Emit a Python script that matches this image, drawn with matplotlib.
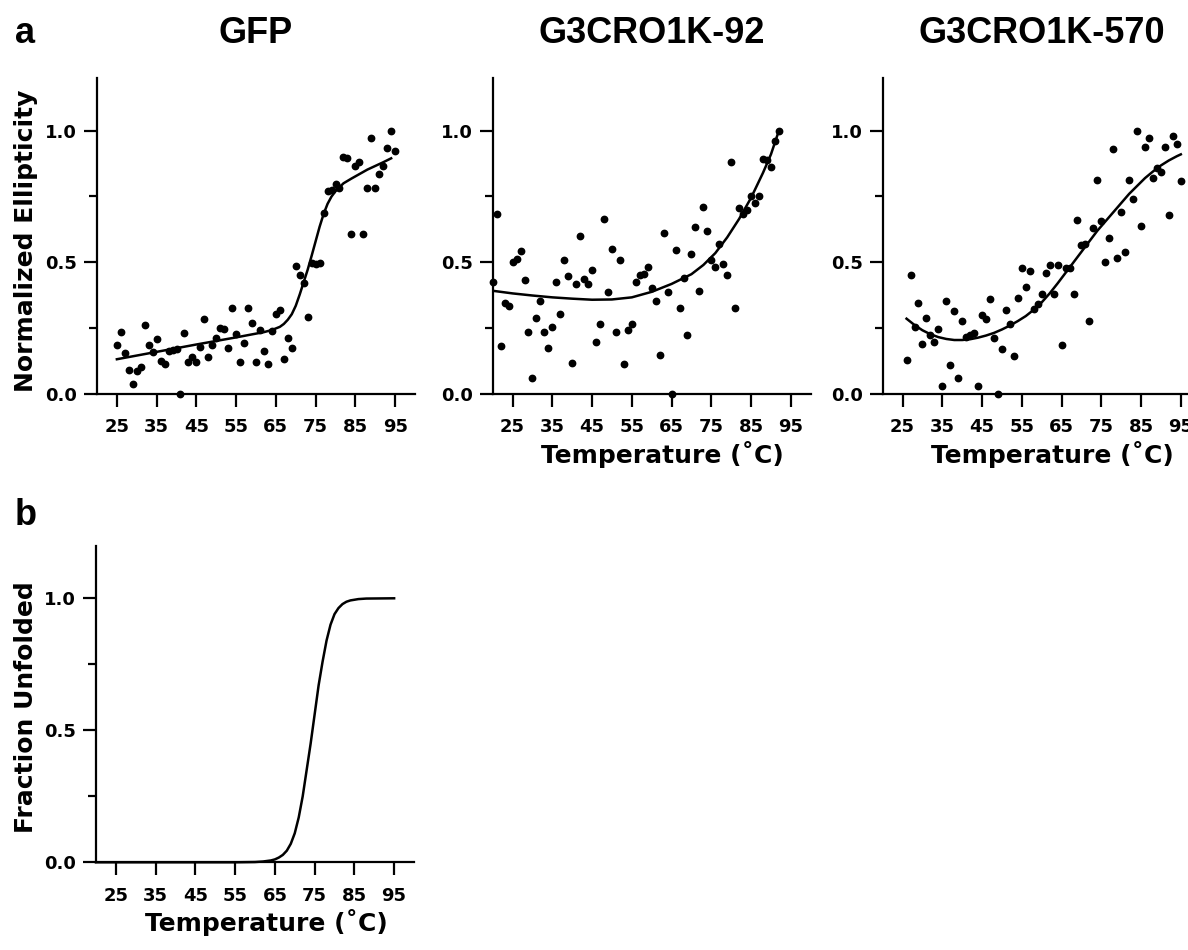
import matplotlib.pyplot as plt
import numpy as np

# --- panel a: measured CD ellipticity, one reading per degree ---
gfp_start = 25
gfp_ellip = [0.186, 0.235, 0.157, 0.090, 0.039, 0.086, 0.104, 0.263, 0.185, 0.161,
             0.209, 0.125, 0.115, 0.165, 0.167, 0.172, 0.0, 0.232, 0.122, 0.142,
             0.120, 0.177, 0.286, 0.141, 0.186, 0.214, 0.249, 0.246, 0.173, 0.327,
             0.229, 0.123, 0.195, 0.327, 0.271, 0.120, 0.243, 0.162, 0.114, 0.238,
             0.304, 0.319, 0.134, 0.214, 0.173, 0.487, 0.453, 0.420, 0.294, 0.496,
             0.495, 0.499, 0.689, 0.772, 0.775, 0.796, 0.784, 0.899, 0.897, 0.609,
             0.866, 0.881, 0.609, 0.782, 0.971, 0.782, 0.834, 0.866, 0.933, 1.0, 0.922]

k92_start = 20
k92_ellip = [0.424, 0.685, 0.182, 0.347, 0.335, 0.503, 0.514, 0.542, 0.433, 0.237,
             0.059, 0.290, 0.353, 0.235, 0.176, 0.256, 0.427, 0.303, 0.510, 0.447,
             0.119, 0.419, 0.599, 0.435, 0.416, 0.471, 0.197, 0.265, 0.666, 0.386,
             0.551, 0.237, 0.508, 0.115, 0.243, 0.266, 0.425, 0.452, 0.456, 0.482,
             0.401, 0.354, 0.147, 0.611, 0.386, 0.0, 0.546, 0.328, 0.439, 0.224,
             0.530, 0.635, 0.392, 0.711, 0.618, 0.508, 0.481, 0.568, 0.495, 0.451,
             0.880, 0.328, 0.708, 0.685, 0.700, 0.753, 0.724, 0.751, 0.891, 0.889,
             0.861, 0.961, 1.0]

k570_start = 26
k570_ellip = [0.129, 0.452, 0.256, 0.346, 0.189, 0.289, 0.224, 0.196, 0.246, 0.032,
              0.352, 0.109, 0.316, 0.062, 0.278, 0.215, 0.224, 0.230, 0.029, 0.299,
              0.284, 0.361, 0.211, 0.0, 0.170, 0.318, 0.265, 0.146, 0.366, 0.480,
              0.405, 0.466, 0.322, 0.342, 0.380, 0.458, 0.489, 0.381, 0.490, 0.185,
              0.477, 0.477, 0.378, 0.662, 0.566, 0.570, 0.278, 0.629, 0.814, 0.656,
              0.501, 0.594, 0.929, 0.518, 0.690, 0.541, 0.814, 0.741, 1.0, 0.638,
              0.938, 0.973, 0.820, 0.859, 0.842, 0.938, 0.678, 0.981, 0.948, 0.81]

# fitted curves
gfp_fit_t = [25, 35, 45, 55, 62, 64, 66, 67, 68, 69, 70, 71, 72, 73, 74, 75, 76,
             77, 78, 79, 80, 82, 84, 86, 88, 90, 92, 94]
gfp_fit_y = [0.132, 0.160, 0.188, 0.215, 0.235, 0.243, 0.255, 0.266, 0.282, 0.303,
             0.335, 0.378, 0.425, 0.472, 0.525, 0.580, 0.635, 0.683, 0.722, 0.750,
             0.770, 0.800, 0.818, 0.835, 0.852, 0.866, 0.880, 0.895]

k92_fit_t = [20, 25, 30, 35, 40, 45, 50, 55, 60, 65, 70, 73, 76, 79, 82, 85, 88, 90, 92]
k92_fit_y = [0.392, 0.382, 0.374, 0.367, 0.362, 0.358, 0.359, 0.367, 0.388, 0.418,
             0.455, 0.490, 0.535, 0.595, 0.665, 0.745, 0.840, 0.910, 1.0]

k570_fit_t = [26, 28, 30, 32, 34, 36, 38, 40, 42, 44, 46, 48, 50, 52, 54, 56, 58, 60,
              62, 64, 66, 68, 70, 72, 74, 76, 78, 80, 82, 84, 86, 88, 90, 92, 94, 95]
k570_fit_y = [0.286, 0.262, 0.242, 0.227, 0.216, 0.209, 0.205, 0.205, 0.208, 0.214,
              0.222, 0.232, 0.245, 0.260, 0.277, 0.296, 0.320, 0.348, 0.382, 0.420,
              0.460, 0.500, 0.540, 0.580, 0.620, 0.655, 0.690, 0.725, 0.760, 0.790,
              0.820, 0.845, 0.868, 0.887, 0.903, 0.910]

# --- panel b: fraction unfolded (GFP) ---
unf_t = [20, 55, 60, 62, 64, 65, 66, 67, 68, 69, 70, 71, 72, 73, 74, 75, 76, 77,
         78, 79, 80, 81, 82, 83, 84, 86, 88, 95]
unf_y = [0.0, 0.0, 0.001, 0.003, 0.007, 0.011, 0.018, 0.028, 0.044, 0.070, 0.110,
         0.170, 0.250, 0.350, 0.450, 0.560, 0.670, 0.760, 0.840, 0.900, 0.940,
         0.963, 0.978, 0.987, 0.992, 0.997, 0.999, 1.0]

titles = ['GFP', 'G3CRO1K-92', 'G3CRO1K-570']
xticks = [25, 35, 45, 55, 65, 75, 85, 95]
xlab = 'Temperature (\u02daC)'

W, H = 1188, 950
fig = plt.figure(figsize=(W / 100, H / 100), dpi=100)

def make_axes(left, zero, h):
  ax = fig.add_axes([left / W, (H - zero) / H, 318 / W, h / H])
  ax.set_xlim(20, 100)
  ax.set_ylim(0, 1.2)
  for s in ['top', 'right']:
    ax.spines[s].set_visible(False)
  for s in ['left', 'bottom']:
    ax.spines[s].set_linewidth(1.6)
  ax.set_xticks(xticks)
  ax.set_yticks([0, 0.5, 1.0])
  ax.set_yticklabels(['0.0', '0.5', '1.0'])
  ax.set_yticks([0.25, 0.75], minor=True)
  ax.tick_params(which='major', length=9.5, width=1.6, pad=5)
  ax.tick_params(axis='x', pad=8)
  ax.tick_params(which='minor', length=5.5, width=1.6)
  for lab in ax.get_xticklabels() + ax.get_yticklabels():
    lab.set_fontsize(13)
    lab.set_fontweight('bold')
  return ax

panels = [
  (97, gfp_start, gfp_ellip, gfp_fit_t, gfp_fit_y),
  (492.7, k92_start, k92_ellip, k92_fit_t, k92_fit_y),
  (882.7, k570_start, k570_ellip, k570_fit_t, k570_fit_y),
]

for i, (left, t0, ys, ft, fy) in enumerate(panels):
  ax = make_axes(left, 394, 316)
  temps = np.arange(t0, t0 + len(ys))
  ax.plot(temps, ys, 'o', color='black', markersize=4.6, clip_on=False, zorder=3)
  ax.plot(ft, fy, color='black', lw=1.8, solid_joinstyle='round', zorder=2)
  ax.set_title(titles[i], fontsize=26, fontweight='bold', family='Liberation Sans', pad=25)
  if i == 0:
    ax.set_ylabel('Normalized Ellipticity', fontsize=18, fontweight='bold')
    ax.yaxis.set_label_coords(-0.185, 0.485)
  else:
    ax.set_xlabel(xlab, fontsize=18, fontweight='bold', va='top')
    ax.xaxis.set_label_coords(0.535, -0.148)

axb = make_axes(96, 862.3, 316.8)
axb.plot(unf_t, unf_y, color='black', lw=1.8, solid_joinstyle='round', clip_on=False)
axb.set_ylabel('Fraction Unfolded', fontsize=18, fontweight='bold')
axb.yaxis.set_label_coords(-0.182, 0.49)
axb.set_xlabel(xlab, fontsize=18, fontweight='bold', va='top')
axb.xaxis.set_label_coords(0.535, -0.148)

fig.text(15 / W, 1 - 43 / H, 'a', fontsize=26, fontweight='bold',
         family='Liberation Sans', va='baseline', ha='left')
fig.text(15 / W, 1 - 525 / H, 'b', fontsize=26, fontweight='bold',
         family='Liberation Sans', va='baseline', ha='left')

fig.savefig('out.png', dpi=100)
